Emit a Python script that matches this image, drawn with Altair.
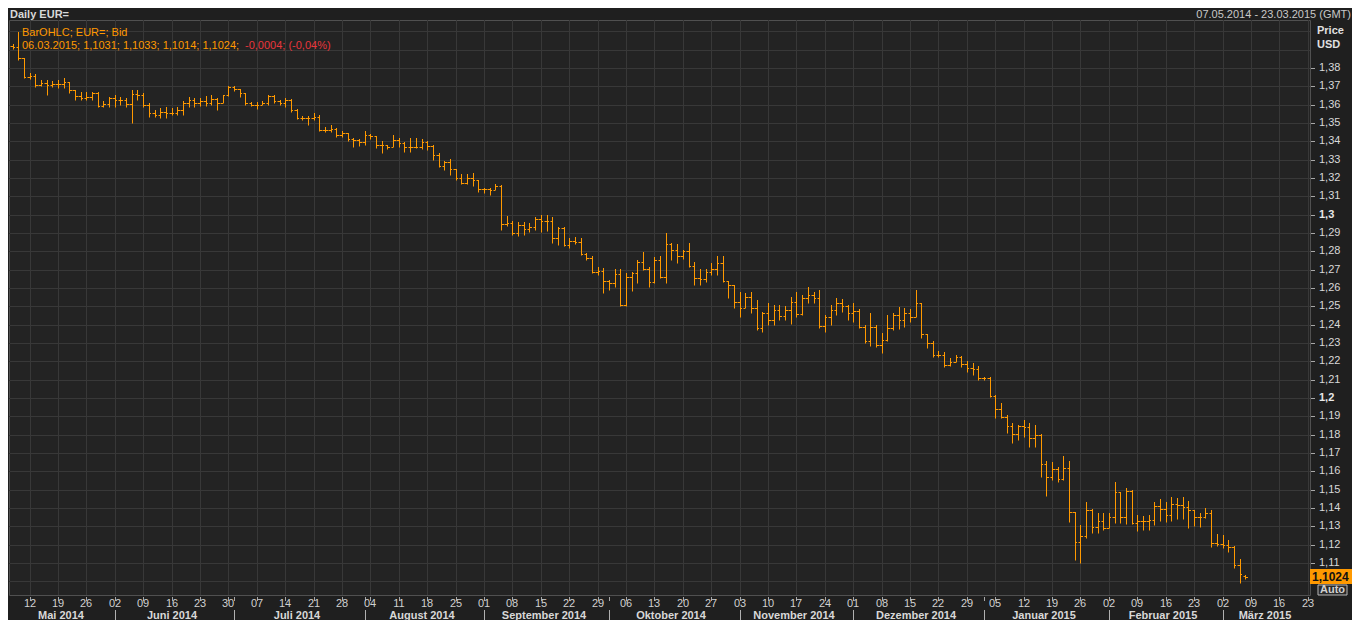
import altair as alt
import pandas as pd

# ---------------- data (EUR= daily bid) ----------------
opens = [
    1.3920, 1.3915, 1.3855, 1.3751, 1.3756, 1.3707, 1.3718, 1.3707, 1.3713, 1.3713,
    1.3724, 1.3680, 1.3647, 1.3636, 1.3642, 1.3664, 1.3593, 1.3604, 1.3636, 1.3625,
    1.3625, 1.3604, 1.3658, 1.3653, 1.3598, 1.3555, 1.3544, 1.3560, 1.3555, 1.3555,
    1.3571, 1.3609, 1.3625, 1.3609, 1.3620, 1.3609, 1.3631, 1.3609, 1.3653, 1.3696,
    1.3685, 1.3664, 1.3609, 1.3598, 1.3598, 1.3609, 1.3647, 1.3620, 1.3609, 1.3625,
    1.3571, 1.3527, 1.3527, 1.3527, 1.3533, 1.3462, 1.3462, 1.3467, 1.3435, 1.3445,
    1.3413, 1.3407, 1.3396, 1.3435, 1.3429, 1.3380, 1.3380, 1.3369, 1.3407, 1.3391,
    1.3369, 1.3369, 1.3369, 1.3396, 1.3375, 1.3325, 1.3265, 1.3287, 1.3249, 1.3200,
    1.3173, 1.3200, 1.3189, 1.3140, 1.3140, 1.3134, 1.3156, 1.2949, 1.2955, 1.2900,
    1.2944, 1.2922, 1.2933, 1.2976, 1.2966, 1.2966, 1.2873, 1.2927, 1.2834, 1.2856,
    1.2851, 1.2785, 1.2763, 1.2687, 1.2692, 1.2638, 1.2627, 1.2676, 1.2507, 1.2660,
    1.2682, 1.2742, 1.2703, 1.2633, 1.2753, 1.2660, 1.2840, 1.2807, 1.2774, 1.2802,
    1.2720, 1.2654, 1.2649, 1.2687, 1.2703, 1.2736, 1.2638, 1.2616, 1.2523, 1.2491,
    1.2551, 1.2491, 1.2381, 1.2463, 1.2425, 1.2480, 1.2447, 1.2480, 1.2523, 1.2458,
    1.2545, 1.2561, 1.2545, 1.2392, 1.2442, 1.2480, 1.2518, 1.2502, 1.2463, 1.2474,
    1.2387, 1.2311, 1.2387, 1.2289, 1.2316, 1.2381, 1.2453, 1.2425, 1.2463, 1.2442,
    1.2518, 1.2349, 1.2300, 1.2234, 1.2234, 1.2180, 1.2196, 1.2223, 1.2185, 1.2163,
    1.2158, 1.2109, 1.2109, 1.2011, 1.1940, 1.1896, 1.1847, 1.1803, 1.1847, 1.1842,
    1.1781, 1.1798, 1.1639, 1.1568, 1.1612, 1.1557, 1.1617, 1.1378, 1.1214, 1.1247,
    1.1389, 1.1296, 1.1329, 1.1290, 1.1350, 1.1487, 1.1350, 1.1492, 1.1318, 1.1329,
    1.1329, 1.1334, 1.1410, 1.1394, 1.1361, 1.1421, 1.1416, 1.1405, 1.1389, 1.1350,
    1.1350, 1.1372, 1.1209, 1.1203, 1.1198, 1.1187, 1.1089, 1.1031,
]
highs = [
    1.3931, 1.3996, 1.3855, 1.3773, 1.3767, 1.3735, 1.3735, 1.3729, 1.3735, 1.3745,
    1.3724, 1.3680, 1.3669, 1.3669, 1.3669, 1.3669, 1.3620, 1.3642, 1.3653, 1.3642,
    1.3636, 1.3680, 1.3680, 1.3664, 1.3609, 1.3571, 1.3582, 1.3587, 1.3582, 1.3587,
    1.3620, 1.3642, 1.3636, 1.3636, 1.3647, 1.3653, 1.3636, 1.3653, 1.3702, 1.3702,
    1.3685, 1.3664, 1.3614, 1.3614, 1.3620, 1.3653, 1.3653, 1.3625, 1.3636, 1.3631,
    1.3576, 1.3538, 1.3538, 1.3555, 1.3544, 1.3478, 1.3489, 1.3473, 1.3456, 1.3445,
    1.3418, 1.3413, 1.3456, 1.3440, 1.3429, 1.3402, 1.3380, 1.3435, 1.3418, 1.3396,
    1.3418, 1.3418, 1.3413, 1.3402, 1.3380, 1.3336, 1.3293, 1.3304, 1.3249, 1.3222,
    1.3222, 1.3227, 1.3189, 1.3145, 1.3145, 1.3167, 1.3162, 1.2993, 1.2966, 1.2960,
    1.2960, 1.2955, 1.2987, 1.2998, 1.2998, 1.2987, 1.2933, 1.2933, 1.2873, 1.2878,
    1.2873, 1.2791, 1.2774, 1.2714, 1.2709, 1.2644, 1.2703, 1.2703, 1.2682, 1.2687,
    1.2753, 1.2796, 1.2714, 1.2769, 1.2774, 1.2900, 1.2845, 1.2840, 1.2807, 1.2845,
    1.2742, 1.2703, 1.2703, 1.2736, 1.2774, 1.2774, 1.2638, 1.2616, 1.2578, 1.2572,
    1.2578, 1.2534, 1.2469, 1.2518, 1.2507, 1.2507, 1.2502, 1.2551, 1.2578, 1.2561,
    1.2605, 1.2578, 1.2589, 1.2453, 1.2507, 1.2545, 1.2540, 1.2507, 1.2518, 1.2485,
    1.2398, 1.2463, 1.2398, 1.2354, 1.2453, 1.2463, 1.2496, 1.2491, 1.2485, 1.2589,
    1.2518, 1.2349, 1.2311, 1.2256, 1.2251, 1.2218, 1.2234, 1.2229, 1.2201, 1.2191,
    1.2174, 1.2114, 1.2114, 1.2016, 1.1972, 1.1907, 1.1863, 1.1853, 1.1880, 1.1863,
    1.1853, 1.1803, 1.1656, 1.1650, 1.1623, 1.1683, 1.1656, 1.1378, 1.1307, 1.1432,
    1.1394, 1.1372, 1.1372, 1.1372, 1.1541, 1.1487, 1.1508, 1.1497, 1.1361, 1.1356,
    1.1361, 1.1432, 1.1449, 1.1432, 1.1459, 1.1454, 1.1459, 1.1438, 1.1389, 1.1372,
    1.1399, 1.1389, 1.1258, 1.1252, 1.1225, 1.1192, 1.1121, 1.1033,
]
lows = [
    1.3904, 1.3844, 1.3745, 1.3740, 1.3696, 1.3702, 1.3653, 1.3696, 1.3691, 1.3691,
    1.3664, 1.3625, 1.3625, 1.3625, 1.3625, 1.3587, 1.3587, 1.3587, 1.3587, 1.3598,
    1.3587, 1.3500, 1.3625, 1.3587, 1.3533, 1.3533, 1.3527, 1.3527, 1.3544, 1.3544,
    1.3544, 1.3587, 1.3587, 1.3593, 1.3593, 1.3598, 1.3571, 1.3609, 1.3647, 1.3674,
    1.3642, 1.3598, 1.3593, 1.3576, 1.3598, 1.3598, 1.3609, 1.3598, 1.3587, 1.3560,
    1.3522, 1.3516, 1.3489, 1.3516, 1.3456, 1.3451, 1.3451, 1.3424, 1.3424, 1.3402,
    1.3369, 1.3375, 1.3380, 1.3413, 1.3364, 1.3336, 1.3358, 1.3369, 1.3369, 1.3342,
    1.3342, 1.3364, 1.3358, 1.3353, 1.3298, 1.3260, 1.3244, 1.3216, 1.3189, 1.3167,
    1.3167, 1.3156, 1.3123, 1.3118, 1.3107, 1.3134, 1.2916, 1.2938, 1.2889, 1.2883,
    1.2889, 1.2905, 1.2916, 1.2905, 1.2911, 1.2845, 1.2834, 1.2829, 1.2818, 1.2840,
    1.2780, 1.2753, 1.2682, 1.2671, 1.2572, 1.2589, 1.2605, 1.2502, 1.2502, 1.2583,
    1.2627, 1.2698, 1.2605, 1.2627, 1.2654, 1.2627, 1.2753, 1.2736, 1.2758, 1.2714,
    1.2616, 1.2616, 1.2633, 1.2671, 1.2671, 1.2633, 1.2545, 1.2491, 1.2442, 1.2491,
    1.2463, 1.2371, 1.2360, 1.2398, 1.2398, 1.2425, 1.2425, 1.2403, 1.2442, 1.2453,
    1.2518, 1.2518, 1.2381, 1.2360, 1.2398, 1.2453, 1.2469, 1.2425, 1.2414, 1.2381,
    1.2300, 1.2283, 1.2278, 1.2245, 1.2311, 1.2371, 1.2376, 1.2387, 1.2414, 1.2442,
    1.2327, 1.2273, 1.2223, 1.2223, 1.2169, 1.2174, 1.2196, 1.2169, 1.2141, 1.2125,
    1.2098, 1.2098, 1.2005, 1.1891, 1.1891, 1.1809, 1.1754, 1.1771, 1.1787, 1.1733,
    1.1733, 1.1568, 1.1465, 1.1552, 1.1541, 1.1552, 1.1323, 1.1116, 1.1100, 1.1236,
    1.1263, 1.1263, 1.1279, 1.1290, 1.1318, 1.1318, 1.1312, 1.1312, 1.1274, 1.1279,
    1.1279, 1.1307, 1.1329, 1.1323, 1.1329, 1.1340, 1.1340, 1.1290, 1.1301, 1.1296,
    1.1345, 1.1187, 1.1192, 1.1181, 1.1160, 1.1072, 1.0990, 1.1014,
]
closes = [
    1.3915, 1.3855, 1.3751, 1.3756, 1.3707, 1.3718, 1.3707, 1.3713, 1.3713, 1.3724,
    1.3680, 1.3647, 1.3636, 1.3642, 1.3664, 1.3593, 1.3604, 1.3636, 1.3625, 1.3625,
    1.3604, 1.3658, 1.3653, 1.3598, 1.3555, 1.3544, 1.3560, 1.3555, 1.3555, 1.3571,
    1.3609, 1.3625, 1.3609, 1.3620, 1.3609, 1.3631, 1.3609, 1.3653, 1.3696, 1.3685,
    1.3664, 1.3609, 1.3598, 1.3598, 1.3609, 1.3647, 1.3620, 1.3609, 1.3625, 1.3571,
    1.3527, 1.3527, 1.3527, 1.3533, 1.3462, 1.3462, 1.3467, 1.3435, 1.3445, 1.3413,
    1.3407, 1.3396, 1.3435, 1.3429, 1.3380, 1.3380, 1.3369, 1.3407, 1.3391, 1.3369,
    1.3369, 1.3369, 1.3396, 1.3375, 1.3325, 1.3265, 1.3287, 1.3249, 1.3200, 1.3173,
    1.3200, 1.3189, 1.3140, 1.3140, 1.3134, 1.3156, 1.2949, 1.2955, 1.2900, 1.2944,
    1.2922, 1.2933, 1.2976, 1.2966, 1.2966, 1.2873, 1.2927, 1.2834, 1.2856, 1.2851,
    1.2785, 1.2763, 1.2687, 1.2692, 1.2638, 1.2627, 1.2676, 1.2507, 1.2660, 1.2682,
    1.2742, 1.2703, 1.2633, 1.2753, 1.2660, 1.2840, 1.2807, 1.2774, 1.2802, 1.2720,
    1.2654, 1.2649, 1.2687, 1.2703, 1.2736, 1.2638, 1.2616, 1.2523, 1.2491, 1.2551,
    1.2491, 1.2381, 1.2463, 1.2425, 1.2480, 1.2447, 1.2480, 1.2523, 1.2458, 1.2545,
    1.2561, 1.2545, 1.2392, 1.2442, 1.2480, 1.2518, 1.2502, 1.2463, 1.2474, 1.2387,
    1.2311, 1.2387, 1.2289, 1.2316, 1.2381, 1.2453, 1.2425, 1.2463, 1.2442, 1.2518,
    1.2349, 1.2300, 1.2234, 1.2234, 1.2180, 1.2196, 1.2223, 1.2185, 1.2163, 1.2158,
    1.2109, 1.2109, 1.2011, 1.1940, 1.1896, 1.1847, 1.1803, 1.1847, 1.1842, 1.1781,
    1.1798, 1.1639, 1.1568, 1.1612, 1.1557, 1.1617, 1.1378, 1.1214, 1.1247, 1.1389,
    1.1296, 1.1329, 1.1290, 1.1350, 1.1487, 1.1350, 1.1492, 1.1318, 1.1329, 1.1329,
    1.1334, 1.1410, 1.1394, 1.1361, 1.1421, 1.1416, 1.1405, 1.1389, 1.1350, 1.1350,
    1.1372, 1.1209, 1.1203, 1.1198, 1.1187, 1.1089, 1.1039, 1.1024,
]

month_names = ["Mai 2014", "Juni 2014", "Juli 2014", "August 2014", "September 2014",
               "Oktober 2014", "November 2014", "Dezember 2014", "Januar 2015",
               "Februar 2015", "März 2015"]

y_labels = [round(1.11 + 0.01 * k, 2) for k in range(28)]      # 1,11 ... 1,38
y_grid = [round(1.10 + 0.01 * k, 2) for k in range(31)]        # 1,10 ... 1,40
y_bold = [1.2, 1.3]

title_left = "Daily EUR="
title_right = "07.05.2014 - 23.03.2015 (GMT)"
legend_1 = "BarOHLC; EUR=; Bid"
legend_2 = "06.03.2015; 1,1031; 1,1033; 1,1014; 1,1024;"
legend_3 = "-0,0004; (-0,04%)"
last_label = "1,1024"

# ---------------- tables ----------------
axis_days = pd.DataFrame({"date": pd.bdate_range("2014-05-07", "2015-03-23")})
axis_days["i"] = range(len(axis_days))
n = len(closes)
bars = pd.DataFrame({"i": range(n), "open": opens, "high": highs, "low": lows, "close": closes})
bars["il"] = bars["i"] - 0.45
bars["ir"] = bars["i"] + 0.45

mondays = axis_days[axis_days["date"].dt.dayofweek == 0].copy()
mondays["label"] = mondays["date"].dt.strftime("%d")

mkey = axis_days["date"].dt.to_period("M")
mg = axis_days.groupby(mkey)["i"].agg(["min", "max"]).reset_index(drop=True)
mg["center"] = (mg["min"] + mg["max"]) / 2
mg["name"] = month_names
month_starts = mg.iloc[1:][["min"]].rename(columns={"min": "i"})
tick_pos = pd.concat([mondays[["i"]], month_starts]).drop_duplicates()

ylab = pd.DataFrame({"v": y_labels})
ylab["label"] = [(f"{v:.2f}".rstrip("0")).replace(".", ",") for v in y_labels]
ylab["bold"] = [any(abs(v - b) < 1e-6 for b in y_bold) for v in y_labels]
ylab_normal = ylab[~ylab["bold"]]
ylab_bold = ylab[ylab["bold"]]

W, H = 1301, 575
ORANGE = "#ff9900"
GRID = "#383838"
FONT = "Liberation Sans"

xs = alt.Scale(domain=[-0.62, 228.4], nice=False, zero=False, round=True)
ys = alt.Scale(domain=[1.0925, 1.4062], nice=False, zero=False, round=True)

hgrid = alt.Chart(pd.DataFrame({"v": y_grid})).mark_rule(color=GRID, strokeWidth=1, yOffset=0.5).encode(
    y=alt.Y("v:Q", scale=ys, axis=None))
vgrid = alt.Chart(mondays).mark_rule(color=GRID, strokeWidth=1, xOffset=0.5).encode(
    x=alt.X("i:Q", scale=xs, axis=None))

wick = alt.Chart(bars).mark_rule(color=ORANGE, strokeWidth=1, xOffset=0.5, yOffset=0.5).encode(
    x=alt.X("i:Q", scale=xs, axis=None),
    y=alt.Y("low:Q", scale=ys, axis=None), y2="high:Q")
otick = alt.Chart(bars).mark_rule(color=ORANGE, strokeWidth=1, xOffset=0.5, yOffset=0.5).encode(
    x=alt.X("il:Q", scale=xs, axis=None), x2="i:Q",
    y=alt.Y("open:Q", scale=ys, axis=None))
ctick = alt.Chart(bars).mark_rule(color=ORANGE, strokeWidth=1, xOffset=0.5, yOffset=0.5).encode(
    x=alt.X("i:Q", scale=xs, axis=None), x2="ir:Q",
    y=alt.Y("close:Q", scale=ys, axis=None))

# right price axis
y_ticks = alt.Chart(ylab).mark_rule(color="#a8a8a8", strokeWidth=1, yOffset=0.5).encode(
    x=alt.value(W + 1), x2=alt.value(W + 5), y=alt.Y("v:Q", scale=ys, axis=None))
y_text = alt.Chart(ylab_normal).mark_text(align="left", baseline="middle", color="#d8d8d8",
                                          fontSize=11, font=FONT).encode(
    x=alt.value(W + 9), y=alt.Y("v:Q", scale=ys, axis=None), text="label:N")
y_text_bold = alt.Chart(ylab_bold).mark_text(align="left", baseline="middle", color="#e8e8e8",
                                             fontSize=11, fontWeight="bold", font=FONT).encode(
    x=alt.value(W + 9), y=alt.Y("v:Q", scale=ys, axis=None), text="label:N")


def txt(text, x, y, color, size=11, weight="normal", align="left"):
    return alt.Chart(pd.DataFrame({"t": [text]})).mark_text(
        align=align, baseline="middle", color=color, fontSize=size,
        fontWeight=weight, font=FONT).encode(x=alt.value(x), y=alt.value(y), text="t:N")


# bottom time axis
day_ticks = alt.Chart(tick_pos).mark_rule(color="#a8a8a8", xOffset=0.5).encode(
    x=alt.X("i:Q", scale=xs, axis=None), y=alt.value(H + 2), y2=alt.value(H + 6))
day_text = alt.Chart(mondays).mark_text(baseline="middle", color="#d0d0d0", fontSize=11, font=FONT).encode(
    x=alt.X("i:Q", scale=xs, axis=None), y=alt.value(H + 9), text="label:N")
month_sep = alt.Chart(month_starts).mark_rule(color="#b0b0b0", xOffset=0.5).encode(
    x=alt.X("i:Q", scale=xs, axis=None), y=alt.value(H + 15), y2=alt.value(H + 27))
month_text = alt.Chart(mg).mark_text(baseline="middle", color="#d8d8d8", fontSize=11,
                                     fontWeight="bold", font=FONT).encode(
    x=alt.X("center:Q", scale=xs, axis=None), y=alt.value(H + 21), text="name:N")

# current price box
price_box = alt.Chart(pd.DataFrame({"a": [0]})).mark_rect(color=ORANGE).encode(
    x=alt.value(W), x2=alt.value(W + 46), y=alt.value(549), y2=alt.value(564))
auto_box = alt.Chart(pd.DataFrame({"a": [0]})).mark_rect(fill="#2a2a2a", stroke="#b8b8b8", strokeWidth=1).encode(
    x=alt.value(W + 8), x2=alt.value(W + 37), y=alt.value(565), y2=alt.value(575))

chart = alt.layer(
    hgrid, vgrid, wick, otick, ctick,
    y_ticks, y_text, y_text_bold,
    day_ticks, day_text, month_sep, month_text,
    txt(title_left, 1, -5, "#d8d8d8", weight="bold"),
    txt(title_right, 1342, -5, "#c8c8c8", align="right"),
    txt("Price", 1308, 11, "#e0e0e0", weight="bold"),
    txt("USD", 1308, 25, "#e0e0e0", weight="bold"),
    txt(legend_1, 13, 13, ORANGE),
    txt(legend_2, 13, 26, ORANGE),
    txt(legend_3, 236, 26, "#e8363c"),
    price_box,
    txt(last_label, W + 2, 557, "#111111", size=12, weight="bold"),
    auto_box,
    txt("Auto", W + 22.5, 570, "#d0d0d0", size=11, weight="bold", align="center"),
).properties(
    width=W, height=H,
    autosize=alt.AutoSizeParams(type="none"),
    padding={"left": 1, "top": 12, "right": 42, "bottom": 25},
).configure(
    background="#1f1f1f", font=FONT,
).configure_view(
    fill="#232323", stroke="#505050", strokeWidth=1,
)

chart.save("out.html", embed_options={"renderer": "svg", "actions": False})
